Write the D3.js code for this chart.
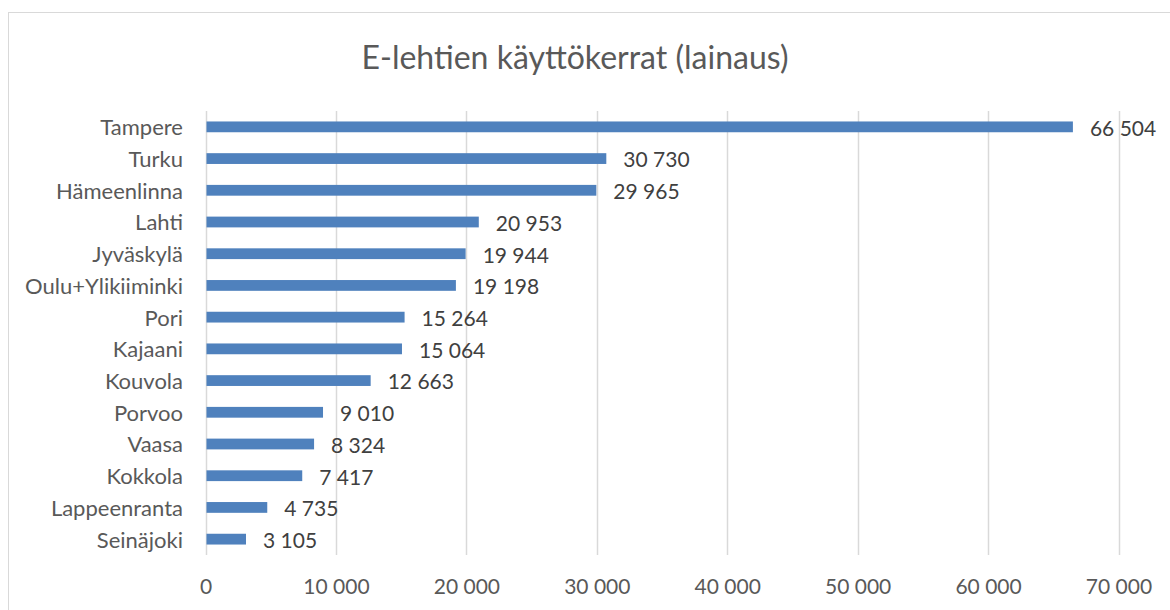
<!DOCTYPE html>
<html><head><meta charset="utf-8">
<script src="https://cdn.jsdelivr.net/npm/d3@7"></script>
<style>body{margin:0;background:#fff}svg{display:block}text{font-family:Lato,sans-serif}</style>
</head><body><svg id="c" width="1170" height="610"></svg>
<script>
const categories = ["Tampere","Turku","Hämeenlinna","Lahti","Jyväskylä","Oulu+Ylikiiminki","Pori ","Kajaani","Kouvola","Porvoo","Vaasa ","Kokkola","Lappeenranta","Seinäjoki"];
const values = [66504,30730,29965,20953,19944,19198,15264,15064,12663,9010,8324,7417,4735,3105];
const ticks = [0,10000,20000,30000,40000,50000,60000,70000];
const title = "E-lehtien käyttökerrat (lainaus)";

const svg = d3.select("#c");
svg.append("rect").attr("x",8.5).attr("y",12.5).attr("width",1200).attr("height",700)
  .attr("fill","#fff").attr("stroke","#d9d9d9").attr("stroke-width",1);

const x = d3.scaleLinear().domain([0,70000]).range([205.5,1118.5]);
const y = d3.scaleBand().domain(categories).range([111,555]).paddingInner(0.66).paddingOuter(0.33);
const fmt = v => d3.format(",")(v).replace(/,/g," ");

svg.append("g").selectAll("line").data(ticks).join("line")
  .attr("x1",d=>Math.round(x(d))+0.5).attr("x2",d=>Math.round(x(d))+0.5)
  .attr("y1",111).attr("y2",555).attr("stroke","#d9d9d9").attr("stroke-width",1.5);

svg.append("g").selectAll("rect").data(categories).join("rect")
  .attr("x",x(0)+1).attr("y",d=>y(d)).attr("height",y.bandwidth())
  .attr("width",(d,i)=>x(values[i])-x(0)-1).attr("fill","#4f81bd");

svg.append("g").selectAll("text").data(categories).join("text")
  .attr("x",(d,i)=>x(values[i])+17).attr("y",d=>y(d)+y.bandwidth()/2).attr("dy","0.42em")
  .attr("font-size",21).attr("fill","#404040").text((d,i)=>fmt(values[i]));

const ya = svg.append("g").attr("transform","translate(205,0)").call(d3.axisLeft(y).tickSize(0).tickPadding(22));
ya.select(".domain").remove();
ya.selectAll("text").attr("font-size",22).attr("fill","#595959").attr("font-family","Lato, sans-serif").attr("dy","0.38em");

const xa = svg.append("g").attr("transform","translate(0,579)").call(d3.axisBottom(x).tickValues(ticks).tickFormat(fmt).tickSize(0).tickPadding(0));
xa.select(".domain").remove();
xa.selectAll("text").attr("font-size",21).attr("fill","#595959").attr("font-family","Lato, sans-serif");

svg.append("text").attr("x",575).attr("y",69).attr("text-anchor","middle")
  .attr("font-size",32).attr("fill","#595959").text(title);
</script></body></html>
